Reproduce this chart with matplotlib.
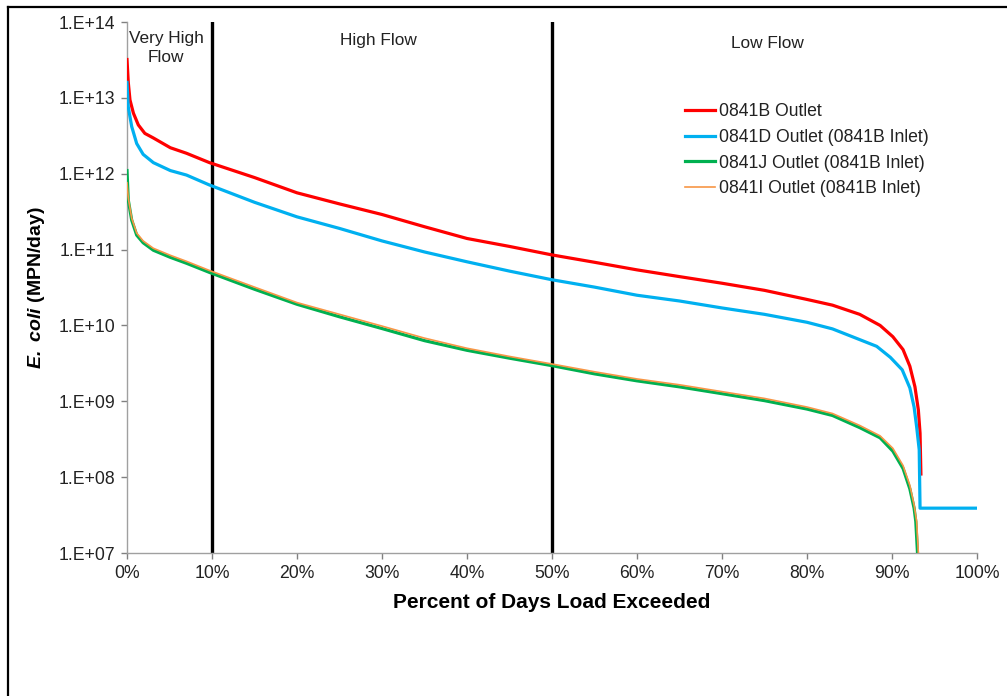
import math
import matplotlib
matplotlib.use("Agg")
import matplotlib.pyplot as plt
from matplotlib.lines import Line2D
from matplotlib.ticker import FixedLocator, FuncFormatter, NullLocator

plt.rcParams['font.family'] = ['Liberation Sans', 'DejaVu Sans']
plt.rcParams['mathtext.fontset'] = 'custom'
plt.rcParams['mathtext.bfit'] = 'Liberation Sans:italic:bold'

# Load duration curves: percent of days exceeded vs. E. coli load (MPN/day)
pct_0841B = [0, 0.15, 0.35, 0.75, 1.33, 2.1, 3.1, 5.1, 7.0, 9.7, 15, 20, 25, 30, 35, 40, 45,
             50, 55, 60, 65, 70, 75, 80, 83, 86.2, 88.6, 90.1, 91.3, 92.1, 92.7, 93.1, 93.3, 93.4]
load_0841B = [3.2e13, 1.6e13, 9.4e12, 6.3e12, 4.4e12, 3.4e12, 2.96e12, 2.2e12, 1.86e12, 1.4e12,
              8.9e11, 5.6e11, 4.0e11, 2.9e11, 2.0e11, 1.4e11, 1.1e11, 8.5e10, 6.8e10, 5.4e10,
              4.4e10, 3.6e10, 2.9e10, 2.2e10, 1.85e10, 1.4e10, 1.0e10, 7.1e9, 4.8e9, 2.9e9,
              1.55e9, 7.7e8, 3.8e8, 1.1e8]

pct_0841D = [0, 0.15, 0.55, 1.14, 1.9, 3.1, 5.1, 7.0, 9.7, 15, 20, 25, 30, 35, 40, 45, 50, 55,
             60, 65, 70, 75, 80, 83, 86.2, 88.2, 89.8, 91.2, 92.1, 92.6, 92.9, 93.2, 93.3, 100]
load_0841D = [1.6e13, 7.6e12, 4.2e12, 2.5e12, 1.8e12, 1.4e12, 1.1e12, 9.6e11, 7.1e11, 4.2e11,
              2.7e11, 1.9e11, 1.3e11, 9.3e10, 6.9e10, 5.2e10, 4.0e10, 3.2e10, 2.5e10, 2.1e10,
              1.7e10, 1.4e10, 1.1e10, 9.0e9, 6.5e9, 5.3e9, 3.8e9, 2.6e9, 1.5e9, 8.4e8, 4.6e8,
              2.3e8, 3.9e7, 3.9e7]

pct_0841J = [0, 0.15, 0.55, 1.14, 1.9, 3.1, 5.1, 7.0, 9.7, 15, 20, 25, 30, 35, 40, 45, 50, 55,
             60, 65, 70, 75, 80, 83, 86.2, 88.6, 90.1, 91.3, 92.1, 92.6, 92.8, 93.0, 93.1]
load_0841J = [1.1e12, 4.5e11, 2.45e11, 1.55e11, 1.23e11, 9.8e10, 7.9e10, 6.6e10, 5.0e10, 3.0e10,
              1.9e10, 1.3e10, 9.1e9, 6.3e9, 4.7e9, 3.7e9, 2.95e9, 2.3e9, 1.86e9, 1.55e9,
              1.26e9, 1.02e9, 7.9e8, 6.5e8, 4.5e8, 3.3e8, 2.2e8, 1.3e8, 7.0e7, 3.9e7, 2.6e7,
              1.0e7, 5.0e6]

pct_0841I = [0, 0.15, 0.55, 1.14, 1.9, 3.1, 5.1, 7.0, 9.7, 15, 20, 25, 30, 35, 40, 45, 50, 55,
             60, 65, 70, 75, 80, 83, 86.2, 88.6, 90.1, 91.3, 92.1, 92.6, 92.9, 93.1, 93.2]
load_0841I = [7.6e11, 4.8e11, 2.6e11, 1.65e11, 1.3e11, 1.04e11, 8.4e10, 7.0e10, 5.3e10, 3.2e10,
              2.0e10, 1.4e10, 9.8e9, 6.8e9, 5.0e9, 3.9e9, 3.1e9, 2.45e9, 1.97e9, 1.65e9,
              1.34e9, 1.09e9, 8.4e8, 6.9e8, 4.8e8, 3.5e8, 2.4e8, 1.42e8, 7.8e7, 4.3e7, 2.6e7,
              1.0e7, 5.0e6]

series_labels = ['0841B Outlet', '0841D Outlet (0841B Inlet)',
                 '0841J Outlet (0841B Inlet)', '0841I Outlet (0841B Inlet)']

flow_breaks = [10, 50]
zone_labels = ['Very High\nFlow', 'High Flow', 'Low Flow']
zone_centers = [4.6, 29.6, 75.3]

x_ticks = list(range(0, 101, 10))
y_ticks = [1e7, 1e8, 1e9, 1e10, 1e11, 1e12, 1e13, 1e14]

W, H = 1007, 696
fig = plt.figure(figsize=(W / 100, H / 100), dpi=100)
ax = fig.add_axes([127 / W, 1 - 553 / H, 850 / W, 531 / H])

ax.plot(pct_0841B, load_0841B, color='#FF0000', lw=2.3, label=series_labels[0], zorder=3)
ax.plot(pct_0841D, load_0841D, color='#00B0F0', lw=2.3, label=series_labels[1], zorder=4)
ax.plot(pct_0841J, load_0841J, color='#00B050', lw=2.3, label=series_labels[2], zorder=5)
ax.plot(pct_0841I, load_0841I, color='#F79646', lw=1.2, label=series_labels[3], zorder=6)

for xb in flow_breaks:
    ax.axvline(xb, color='black', lw=2.4, zorder=2)

ax.set_yscale('log')
ax.set_xlim(0, 100)
ax.set_ylim(1e7, 1e14)
ax.xaxis.set_major_locator(FixedLocator(x_ticks))
ax.xaxis.set_major_formatter(FuncFormatter(lambda v, p: f"{int(round(v))}%"))
ax.yaxis.set_major_locator(FixedLocator(y_ticks))
ax.yaxis.set_minor_locator(NullLocator())
ax.yaxis.set_major_formatter(FuncFormatter(lambda v, p: "1.E+%02d" % round(math.log10(v))))

for side in ('top', 'right'):
    ax.spines[side].set_visible(False)
for side in ('left', 'bottom'):
    ax.spines[side].set_color('#A0A0A0')
    ax.spines[side].set_linewidth(1.0)
ax.tick_params(axis='both', which='major', direction='out', length=4.5, width=1.0,
               color='#808080', labelsize=12.7, labelcolor='#222222', pad=4)

ax.set_xlabel('Percent of Days Load Exceeded', fontsize=15, fontweight='bold', labelpad=8)
ax.set_ylabel(r'$\mathbfit{E.}$ $\mathbfit{coli}$ (MPN/day)', fontsize=14, fontweight='bold',
              labelpad=8)

for xc, txt, yy in zip(zone_centers, zone_labels, [1 - 26 / 531, 1 - 18 / 531, 1 - 21 / 531]):
    ax.text(xc, yy, txt, transform=ax.get_xaxis_transform(), ha='center', va='center',
            fontsize=12.4, color='#222222', linespacing=1.25)

leg = ax.legend(loc='upper left', bbox_to_anchor=((685 - 127) / 850, 1 - (103 - 22) / 531),
                frameon=False, fontsize=12.7, handlelength=1.7, handletextpad=0.2,
                labelspacing=0.5, borderaxespad=0, borderpad=0)
for t in leg.get_texts():
    t.set_color('#222222')

# frame lines along the left and top edges of the figure
fig.add_artist(Line2D([8 / W, 8 / W], [0, 1 - 7 / H], color='black', lw=1.6,
                      transform=fig.transFigure))
fig.add_artist(Line2D([8 / W, 1], [1 - 7 / H, 1 - 7 / H], color='black', lw=1.6,
                      transform=fig.transFigure))

fig.savefig('out.png', dpi=100)
